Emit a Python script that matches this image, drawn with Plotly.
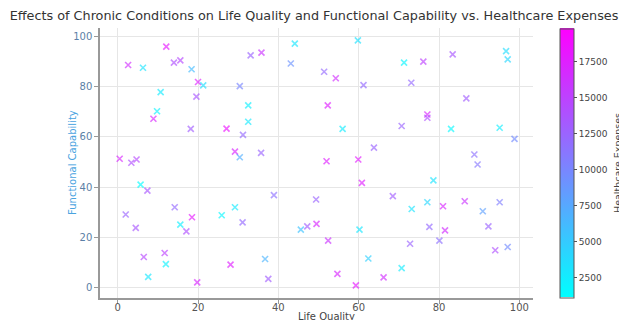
import plotly.graph_objects as go

life_quality = [2.6, 6.3, 12.1, 14.0, 15.6, 18.4, 20.0, 21.3, 19.6, 10.7,
                9.8, 8.9, 18.2, 0.5, 3.4, 4.7, 30.4, 33.1, 35.8, 44.1,
                43.1, 51.4, 52.3, 32.5, 32.5, 27.1, 31.2, 29.2, 30.4, 35.7,
                52.0, 59.8, 54.3, 61.2, 71.3, 76.1, 83.4, 73.1, 56.0, 70.7,
                77.1, 77.1, 83.0, 63.8, 59.9, 96.7, 97.1, 86.8, 95.1, 98.8,
                88.8, 89.6, 5.7, 7.4, 2.0, 4.5, 14.2, 15.6, 17.1, 18.5,
                6.5, 11.7, 12.0, 7.6, 19.8, 38.9, 49.4, 29.2, 25.9, 31.1,
                45.6, 47.2, 49.5, 52.4, 36.7, 28.1, 37.5, 60.8, 78.6, 68.5,
                77.1, 73.2, 81.0, 60.2, 77.6, 81.5, 72.8, 80.1, 62.4, 70.7,
                54.7, 66.2, 59.3, 86.4, 95.1, 90.9, 92.3, 94.0, 97.1]

functional_capability = [88.6, 87.5, 95.9, 89.5, 90.4, 86.9, 81.8, 80.5, 76.0, 77.8,
                         70.2, 67.2, 63.2, 51.3, 49.7, 51.0, 80.2, 92.4, 93.5, 97.1,
                         89.2, 85.9, 72.5, 72.5, 66.0, 63.3, 60.8, 54.1, 51.9, 53.6,
                         50.3, 98.4, 83.3, 80.6, 89.5, 89.9, 92.8, 81.5, 63.2, 64.3,
                         68.9, 67.6, 63.2, 55.7, 51.0, 94.1, 90.8, 75.3, 63.6, 59.2,
                         53.0, 49.0, 41.0, 38.6, 29.1, 23.8, 32.0, 25.1, 22.4, 28.0,
                         12.2, 13.8, 9.4, 4.3, 2.1, 36.8, 35.1, 32.0, 28.8, 26.0,
                         23.1, 24.4, 25.4, 18.7, 11.4, 9.2, 3.5, 41.7, 42.7, 36.4,
                         34.0, 31.3, 32.4, 23.1, 24.2, 22.8, 17.5, 18.7, 11.6, 7.8,
                         5.5, 4.1, 0.9, 34.4, 34.0, 30.4, 24.4, 14.9, 16.2]

healthcare_expenses = [16500, 3000, 18000, 14000, 14500, 6000, 17500, 3500, 13500, 2500,
                       2000, 17000, 13000, 17000, 14000, 14500, 10000, 12500, 16000, 2800,
                       9000, 12000, 17500, 2200, 2600, 18500, 12000, 17000, 7000, 12500,
                       17500, 3200, 16500, 12000, 1800, 15000, 13500, 12000, 2400, 12500,
                       17000, 14000, 1500, 12500, 17800, 3500, 4000, 13000, 2300, 9500,
                       11500, 11000, 1200, 13500, 12500, 13500, 12000, 2200, 14000, 18000,
                       14500, 15000, 1900, 2700, 17000, 11500, 12500, 2500, 1600, 12000,
                       5500, 13000, 17000, 16000, 6500, 17500, 13000, 17500, 3000, 13000,
                       4000, 3000, 17000, 2800, 12000, 16500, 12500, 11500, 4500, 2400,
                       17000, 16500, 18000, 16000, 10500, 8000, 12500, 14000, 9500]

x_ticks = [0, 20, 40, 60, 80, 100]
y_ticks = [0, 20, 40, 60, 80, 100]
cbar_ticks = [2500, 5000, 7500, 10000, 12500, 15000, 17500]

cool = [[0.0, "rgb(0,255,255)"], [1.0, "rgb(255,0,255)"]]

# The page body has an 8px margin, so the figure is drawn 8px smaller and
# all layout positions are given in figure coordinates (picture minus 8).
W, H = 619, 312
L, R, T, B = 92, 94, 20, 22
PW, PH = W - L - R, H - T - B

fig = go.Figure()
fig.add_trace(go.Scatter(
    x=life_quality,
    y=functional_capability,
    mode="markers",
    marker=dict(
        symbol="x-thin",
        size=6,
        color=healthcare_expenses,
        colorscale=cool,
        cmin=1111,
        cmax=19792,
        opacity=0.65,
        line=dict(width=1.6, color=healthcare_expenses, colorscale=cool, cmin=1111, cmax=19792),
        colorbar=dict(
            x=(552 - L) / PW, xanchor="left", xref="paper", xpad=0,
            y=0.5, yanchor="middle", ypad=0,
            lenmode="pixels", len=269,
            thickness=14,
            outlinecolor="#555", outlinewidth=1,
            tickvals=cbar_ticks,
            ticktext=[str(v) for v in cbar_ticks],
            ticks="outside", ticklen=3, tickcolor="#555",
            tickfont=dict(size=9, color="#444", family="DejaVu Sans"),
        ),
    ),
    showlegend=False,
))

fig.update_layout(
    width=W, height=H,
    margin=dict(l=L, r=R, t=T, b=B, autoexpand=False),
    paper_bgcolor="white", plot_bgcolor="white",
    font=dict(family="DejaVu Sans"),
    title=dict(
        text="Effects of Chronic Conditions on Life Quality and Functional Capability vs. Healthcare Expenses",
        x=(306 - L) / PW, xref="paper", xanchor="center",
        y=1 - 7.5 / H, yref="container", yanchor="middle",
        font=dict(size=12.8, color="#333"),
    ),
    annotations=[
        dict(text="Life Quality", xref="paper", yref="paper",
             x=(318 - L) / PW, y=-(308 - (T + PH)) / PH,
             xanchor="center", yanchor="middle", showarrow=False,
             font=dict(size=10, color="#444")),
        dict(text="Functional Capability", xref="paper", yref="paper",
             x=(64 - L) / PW, y=0.5, textangle=-90,
             xanchor="center", yanchor="middle", showarrow=False,
             font=dict(size=10, color="#4aa3df")),
        dict(text="Healthcare Expenses", xref="paper", yref="paper",
             x=(609 - L) / PW, y=0.5, textangle=-90,
             xanchor="center", yanchor="middle", showarrow=False,
             font=dict(size=9.5, color="#444")),
    ],
)
fig.update_xaxes(
    range=[-4.4, 103.4], tickvals=x_ticks,
    showgrid=True, gridcolor="#e6e6e6", gridwidth=1, zeroline=False,
    showline=True, linecolor="#999", linewidth=1.5, mirror=False,
    ticks="outside", ticklen=4, tickcolor="#999",
    tickfont=dict(size=10, color="#555"),
    ticklabelstandoff=-5,
    automargin=False,
)
fig.update_yaxes(
    range=[-4.1, 103.3], tickvals=y_ticks,
    showgrid=True, gridcolor="#e6e6e6", gridwidth=1, zeroline=False,
    showline=True, linecolor="#999", linewidth=1.5, mirror=False,
    ticks="outside", ticklen=4, tickcolor="#999",
    tickfont=dict(size=10, color="#5b7fa6"),
    automargin=False,
)

fig.write_html("out.html")
